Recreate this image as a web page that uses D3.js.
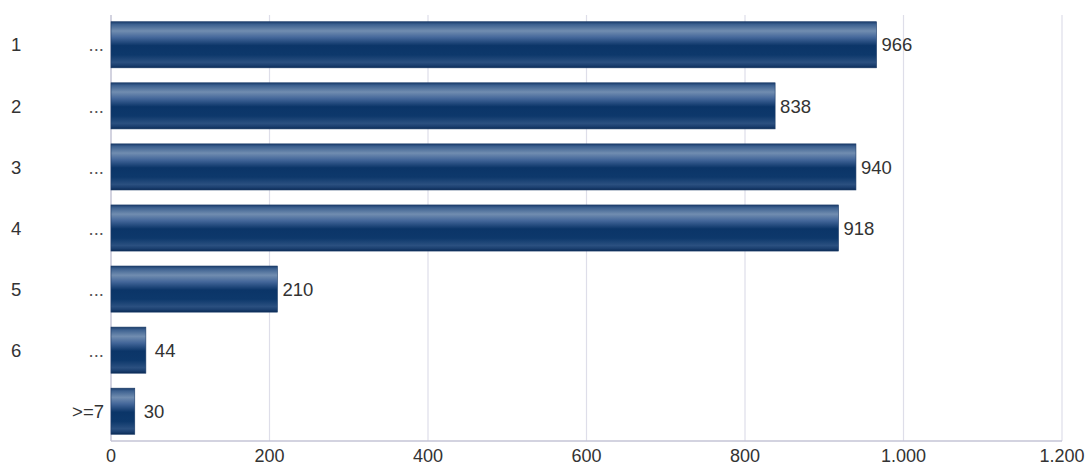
<!DOCTYPE html>
<html><head><meta charset="utf-8">
<script src="https://cdn.jsdelivr.net/npm/d3@7"></script>
<style>body{margin:0;background:#fff}svg{display:block}text{font-family:"Liberation Sans",Arial,sans-serif}</style>
</head><body>
<svg id="c" width="1085" height="466"></svg>
<script>
const categories = ["1", "2", "3", "4", "5", "6", ">=7"];
const catSuffix = ["...", "...", "...", "...", "...", "...", ""];
const values = [966, 838, 940, 918, 210, 44, 30];
const tickValues = [0, 200, 400, 600, 800, 1000, 1200];
const tickLabels = ["0", "200", "400", "600", "800", "1.000", "1.200"];

const svg = d3.select("#c");
const mLeft = 111, mRight = 1062, mTop = 15, mBottom = 441;
const FS = 18.5;
const x = d3.scaleLinear().domain([0, 1200]).range([mLeft, mRight]);
const y = d3.scaleBand().domain(categories).range([mTop, mBottom]).paddingInner(0.245).paddingOuter(0.11);

const defs = svg.append("defs");
const g = defs.append("linearGradient").attr("id", "bar").attr("x1", 0).attr("y1", 0).attr("x2", 0).attr("y2", 1);
[[0, "#1a3c6b"], [0.06, "#3d6190"], [0.2, "#718db0"], [0.34, "#44679a"], [0.52, "#0b3568"], [0.72, "#0d386b"], [0.88, "#2b5080"], [0.95, "#1a3e6e"], [1, "#0a2a55"]]
  .forEach(([o, c]) => g.append("stop").attr("offset", o).attr("stop-color", c));

// gridlines
svg.append("g").selectAll("line").data(tickValues.slice(1)).join("line")
  .attr("x1", d => x(d)).attr("x2", d => x(d)).attr("y1", mTop).attr("y2", mBottom)
  .attr("stroke", "#dedee9").attr("stroke-width", 1.2);

// axes lines
svg.append("line").attr("x1", x(0)).attr("x2", x(0)).attr("y1", mTop).attr("y2", mBottom).attr("stroke", "#c4c4d6").attr("stroke-width", 1.5);
svg.append("line").attr("x1", x(0)).attr("x2", mRight).attr("y1", mBottom).attr("y2", mBottom).attr("stroke", "#c4c4d6").attr("stroke-width", 1.5);

// bars
svg.append("g").selectAll("rect").data(values).join("rect")
  .attr("x", x(0)).attr("y", (d, i) => y(categories[i]))
  .attr("width", d => x(d) - x(0)).attr("height", y.bandwidth())
  .attr("fill", "url(#bar)").attr("stroke", "#1a3a66").attr("stroke-width", 0.6);

// value labels
svg.append("g").selectAll("text").data(values).join("text")
  .attr("x", d => x(d) + (d < 100 ? 9 : 5)).attr("y", (d, i) => y(categories[i]) + y.bandwidth() / 2)
  .attr("dy", "0.36em").attr("font-size", FS).attr("fill", "#333")
  .text(d => d);

// category labels
const cg = svg.append("g");
categories.forEach((c, i) => {
  const cy = y(c) + y.bandwidth() / 2;
  if (catSuffix[i]) {
    cg.append("text").attr("x", 11).attr("y", cy).attr("dy", "0.36em").attr("font-size", FS).attr("fill", "#333").text(c);
    cg.append("text").attr("x", 104).attr("y", cy).attr("dy", "0.36em").attr("text-anchor", "end").attr("font-size", FS).attr("fill", "#555").text(catSuffix[i]);
  } else {
    cg.append("text").attr("x", 104).attr("y", cy).attr("dy", "0.36em").attr("text-anchor", "end").attr("font-size", FS).attr("fill", "#333").text(c);
  }
});

// x tick labels
svg.append("g").selectAll("text").data(tickValues).join("text")
  .attr("x", d => x(d)).attr("y", 462).attr("text-anchor", "middle")
  .attr("font-size", 18).attr("fill", "#333")
  .text((d, i) => tickLabels[i]);
</script>
</body></html>
